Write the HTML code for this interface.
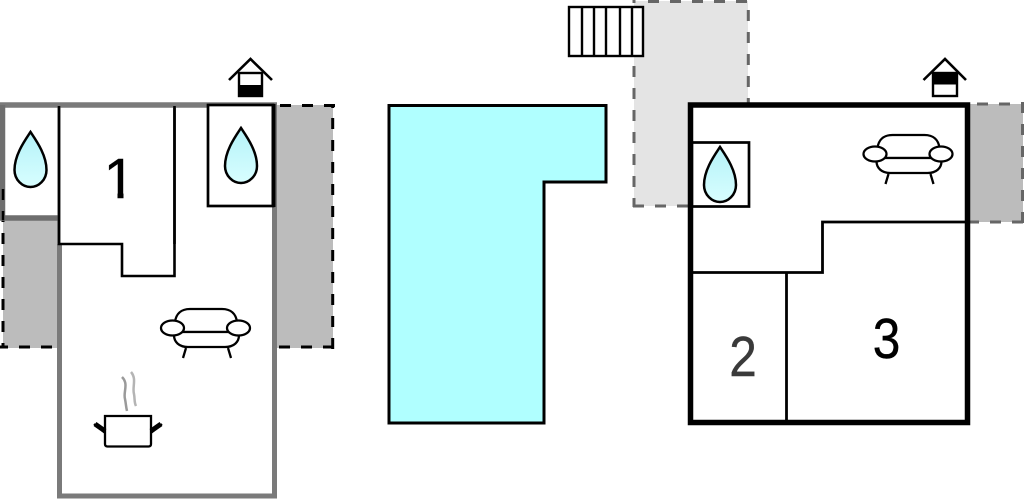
<!DOCTYPE html>
<html>
<head>
<meta charset="utf-8">
<style>
html,body{margin:0;padding:0;background:#fff;width:1024px;height:499px;overflow:hidden}
svg{display:block}
text{font-family:"Liberation Sans",sans-serif;font-size:57px;fill:#000;stroke:#000;stroke-width:.4px}
</style>
</head>
<body>
<svg width="1024" height="499" viewBox="0 0 1024 499" xmlns="http://www.w3.org/2000/svg">
<defs>
<linearGradient id="d" x1="0" y1="0" x2="0" y2="1"><stop offset="0" stop-color="#b4f2f8"/><stop offset="1" stop-color="#d8feff"/></linearGradient>
<clipPath id="one"><polygon points="104,150 123.500,150 123.500,200 117.500,200 117.500,188 104,188"/></clipPath>
<g id="sofa" fill="#fff" stroke="#000" stroke-width="2.300">
<path d="M175 322C176 314 181 309 190 309H222C231 309 236 314 237 322V332H175Z"/>
<path d="M174 335C174 342 179 347 188 347H225C234 347 239 342 239 335V332H174Z" />
<path d="M186 348L183 358M228 348L231 358" fill="none"/>
<ellipse cx="172.500" cy="328" rx="11.500" ry="7.500"/>
<ellipse cx="238.500" cy="328" rx="11.500" ry="7.500"/>
</g>
<path id="drop" d="M0 0C-6 9-16 23-16 38C-16 48-8 55 0 55C8 55 16 48 16 38C16 23 6 9 0 0Z" fill="url(#d)" stroke="#000" stroke-width="2.500"/>
</defs>

<!-- left building -->
<rect x="3" y="218" width="55" height="130" fill="#bcbcbc"/>
<rect x="277" y="105" width="56" height="243" fill="#bcbcbc"/>
<g fill="none" stroke="#000" stroke-width="3" stroke-dasharray="11 11">
<path d="M3 189V348"/>
<path d="M-3 347H57"/>
<path d="M280 105.500H335"/>
<path d="M332.700 118V349"/>
<path d="M334 347H277"/>
</g>
<path d="M332.700 104V108" stroke="#000" stroke-width="3"/>
<path d="M59.500 244V496H274.500V105" fill="#fff" stroke="#7a7a7a" stroke-width="5"/>
<rect x="2.500" y="105" width="57" height="113" fill="#fff"/>
<path d="M59 105V244H122V276H174.500V105Z" fill="#fff" stroke="#000" stroke-width="2.600"/>
<path d="M0 105H277" stroke="#7a7a7a" stroke-width="5.500"/>
<path d="M2.500 105V218M0 218H60" fill="none" stroke="#6e6e6e" stroke-width="5.500"/>
<path d="M3 189V200M3 211V220" stroke="#000" stroke-width="2.500"/>
<path d="M59 106V244M174.500 106V244" stroke="#000" stroke-width="2.600"/>
<rect x="208" y="105" width="65" height="101" fill="#fff" stroke="#000" stroke-width="2.700"/>
<path d="M273.500 104V207" stroke="#000" stroke-width="4"/>
<use href="#drop" x="30.500" y="132"/>
<use href="#drop" x="241" y="128"/>
<text x="119.500" y="198" text-anchor="middle" clip-path="url(#one)">1</text>
<rect x="239" y="73" width="23" height="23" fill="#fff" stroke="#000" stroke-width="2.400"/>
<rect x="238" y="85" width="25" height="12" fill="#000"/>
<path d="M229 80L250.500 59L272 80" fill="none" stroke="#000" stroke-width="2.600"/>
<use href="#sofa"/>
<!-- pot -->
<path d="M105 416H151V444Q151 446.500 148.500 446.500H107.500Q105 446.500 105 444Z" fill="#fff" stroke="#000" stroke-width="2.300"/>
<path d="M105 433L94 424M151 433L162 424" stroke="#000" stroke-width="2"/>
<path d="M95 424L105 431M161 424L151 431" stroke="#000" stroke-width="5"/>
<path d="M122 377C129 384 123 392 125 399C126 404 126 407 127 411" fill="none" stroke="#9a9a9a" stroke-width="2.500"/>
<path d="M131 372C137 379 132 387 134 394C135 399 134 402 136 406" fill="none" stroke="#b4b4b4" stroke-width="2.500"/>

<!-- pool -->
<path d="M389 105.500H606V182H544V423H389Z" fill="#b0ffff" stroke="#000" stroke-width="3"/>

<!-- right building -->
<rect x="634" y="1" width="114" height="205" fill="#e4e4e4"/>
<g fill="none" stroke="#666" stroke-width="3" stroke-dasharray="11 11">
<path d="M648 1.500H749"/>
<path d="M748.300 10V104"/>
<path d="M634 66V207"/>
<path d="M633 206H690"/>
</g>
<path d="M634 0V3" stroke="#666" stroke-width="3"/>
<g fill="#fff" stroke="#000" stroke-width="2.400">
<rect x="569" y="7" width="74" height="49"/>
<path d="M582 7V56M594 7V56M606 7V56M620 7V56M632 7V56" fill="none"/>
</g>
<rect x="969" y="104" width="54" height="118" fill="#bcbcbc"/>
<g fill="none" stroke="#666" stroke-width="3" stroke-dasharray="11 11">
<path d="M977 104H1024"/>
<path d="M1022.500 102V223" stroke-dashoffset="0"/>
<path d="M968 222H1024"/>
</g>
<rect x="690.500" y="105" width="277" height="317.500" fill="#fff" stroke="#000" stroke-width="5.500"/>
<rect x="692" y="142.500" width="57" height="64" fill="#fff" stroke="#000" stroke-width="2.700"/>
<rect x="688" y="102.500" width="5" height="322" fill="#000"/>
<use href="#drop" x="720" y="147"/>
<use href="#sofa" x="702.500" y="-174"/>
<path d="M693 272.500H822.500V222H966" fill="none" stroke="#000" stroke-width="2.800"/>
<path d="M786.500 272.500V421" stroke="#000" stroke-width="2.800"/>
<text transform="translate(743 376) scale(.87 1)" text-anchor="middle" style="fill:#3a3a3a;stroke:#3a3a3a">2</text>
<text transform="translate(886.500 358) scale(.87 1)" text-anchor="middle">3</text>
<rect x="933" y="73" width="24" height="23" fill="#fff" stroke="#000" stroke-width="2.400"/>
<rect x="932" y="72" width="26" height="12.500" fill="#000"/>
<path d="M923.500 80L945 59L966 80" fill="none" stroke="#000" stroke-width="2.600"/>
</svg>
</body>
</html>
